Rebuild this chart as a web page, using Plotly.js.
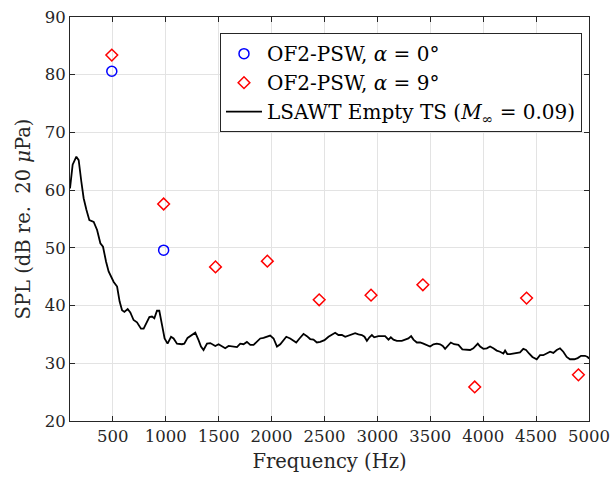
<!DOCTYPE html>
<html>
<head>
<meta charset="utf-8">
<script src="https://cdn.plot.ly/plotly-3.0.1.min.js"></script>
<style>html,body{margin:0;padding:0;background:#fff;}#chart{width:612px;height:477px;}</style>
</head>
<body>
<div id="chart"></div>
<script>
// OF2-PSW measurements
const freqA0 = [490, 980];
const splA0 = [80.6, 49.6];
const freqA9 = [490, 980, 1470, 1960, 2450, 2940, 3430, 3920, 4410, 4900];
const splA9 = [83.4, 57.6, 46.7, 47.7, 41.0, 41.8, 43.6, 25.9, 41.3, 28.0];

// LSAWT empty test section spectrum
const freqTS = [95,120,155,177,202,224,250,278,319,351,382,407,436,460,508,540,564,587,609,640,665,696,728,766,791,816,845,870,892,917,939,965,989,1017,1050,1074,1106,1153,1175,1206,1248,1279,1310,1333,1357,1390,1421,1468,1499,1531,1562,1594,1641,1673,1704,1735,1767,1799,1830,1862,1893,1924,1950,1987,2019,2051,2082,2113,2139,2176,2207,2233,2264,2302,2334,2365,2396,2428,2460,2500,2538,2580,2601,2632,2665,2696,2727,2759,2790,2821,2853,2878,2901,2925,2948,2970,3010,3073,3105,3127,3152,3184,3231,3262,3293,3319,3341,3373,3404,3435,3467,3498,3530,3562,3593,3618,3640,3671,3694,3725,3766,3803,3836,3876,3907,3930,3949,3971,4002,4034,4065,4096,4128,4159,4191,4207,4228,4254,4285,4317,4348,4379,4405,4433,4465,4506,4537,4568,4600,4632,4663,4695,4726,4757,4789,4820,4861,4893,4925,4962,4987,5000];
const splTS = [60.3,64.4,65.8,65.2,61.5,58.6,56.6,54.8,54.5,53.1,50.8,50.2,47.6,45.9,44.1,43.3,40.7,39.2,38.9,39.4,38.8,37.5,37.1,36.0,36.0,36.9,38.0,38.1,37.8,39.1,39.1,36.6,34.3,33.4,34.6,34.3,33.4,33.3,33.4,34.4,34.9,35.3,34.0,32.9,32.3,33.4,33.5,33.0,33.3,33.0,32.6,33.0,32.9,32.8,33.4,33.3,33.7,33.2,33.2,33.7,34.3,34.4,34.6,34.8,34.3,32.9,33.3,34.0,34.6,34.3,33.9,33.6,34.3,35.1,34.7,34.2,34.1,33.6,33.7,34.0,34.6,35.1,35.3,34.9,34.9,34.6,34.8,35.0,35.2,35.0,34.9,34.6,33.9,34.5,34.9,34.5,34.7,34.7,34.1,34.5,34.1,33.9,33.9,34.1,34.3,34.7,34.1,33.6,33.6,33.4,33.2,32.9,33.3,33.4,33.3,33.0,32.5,33.2,33.6,33.3,33.2,32.4,32.3,32.3,32.6,33.0,33.4,32.9,32.5,32.6,32.9,32.6,32.2,32.0,31.7,32.2,31.6,31.6,31.7,31.7,31.9,32.5,32.3,31.7,31.1,30.7,31.4,31.4,31.7,32.0,31.8,32.3,32.6,32.0,31.1,30.7,30.7,30.9,31.3,31.3,31.1,30.8];

const xTicks = [500,1000,1500,2000,2500,3000,3500,4000,4500,5000];
const yTicks = [20,30,40,50,60,70,80,90];

const FONT = "'DejaVu Serif', 'Liberation Serif', serif";

const traces = [
  {
    x: freqA0, y: splA0, type: 'scatter', mode: 'markers',
    name: 'OF2-PSW, <i>α</i> = 0°',
    marker: {symbol: 'circle-open', size: 10, color: '#0000ff', line: {width: 1.5, color: '#0000ff'}}
  },
  {
    x: freqA9, y: splA9, type: 'scatter', mode: 'markers',
    name: 'OF2-PSW, <i>α</i> = 9°',
    marker: {symbol: 'diamond-open', size: 9, color: '#ff0000', line: {width: 1.5, color: '#ff0000'}}
  },
  {
    x: freqTS, y: splTS, type: 'scatter', mode: 'lines',
    name: 'LSAWT Empty TS (<i>M</i><sub>∞</sub> = 0.09)',
    line: {color: '#000000', width: 1.8}
  }
];

const axisCommon = {
  showline: true, linecolor: '#262626', linewidth: 1, mirror: 'ticks',
  ticks: 'inside', ticklen: 5, tickcolor: '#262626', tickwidth: 1,
  showgrid: true, gridcolor: '#e3e3e3', gridwidth: 1, zeroline: false,
  tickfont: {family: FONT, size: 16.5, color: '#262626'}
};

const layout = {
  width: 612, height: 477,
  margin: {l: 70, r: 23, t: 17, b: 56},
  paper_bgcolor: '#ffffff', plot_bgcolor: '#ffffff',
  font: {family: FONT, size: 19, color: '#262626'},
  showlegend: true,
  legend: {
    x: 0.9865, xanchor: 'right', y: 0.96, yanchor: 'top',
    bgcolor: '#ffffff', bordercolor: '#262626', borderwidth: 1,
    font: {family: FONT, size: 20, color: '#000000'},
    tracegroupgap: 0, itemwidth: 36
  },
  xaxis: Object.assign({}, axisCommon, {
    range: [95, 5000], tickmode: 'array', tickvals: xTicks, ticktext: xTicks.map(String),
    title: {text: 'Frequency (Hz)', font: {family: FONT, size: 19.5, color: '#262626'}, standoff: 9}
  }),
  yaxis: Object.assign({}, axisCommon, {
    range: [20, 90], tickmode: 'array', tickvals: yTicks, ticktext: yTicks.map(String),
    title: {text: 'SPL (dB re.\u00a0 20 <i>μ</i>Pa)', font: {family: FONT, size: 19.5, color: '#262626'}, standoff: 8}
  })
};

Plotly.newPlot('chart', traces, layout, {displayModeBar: false, staticPlot: true});
</script>
</body>
</html>
